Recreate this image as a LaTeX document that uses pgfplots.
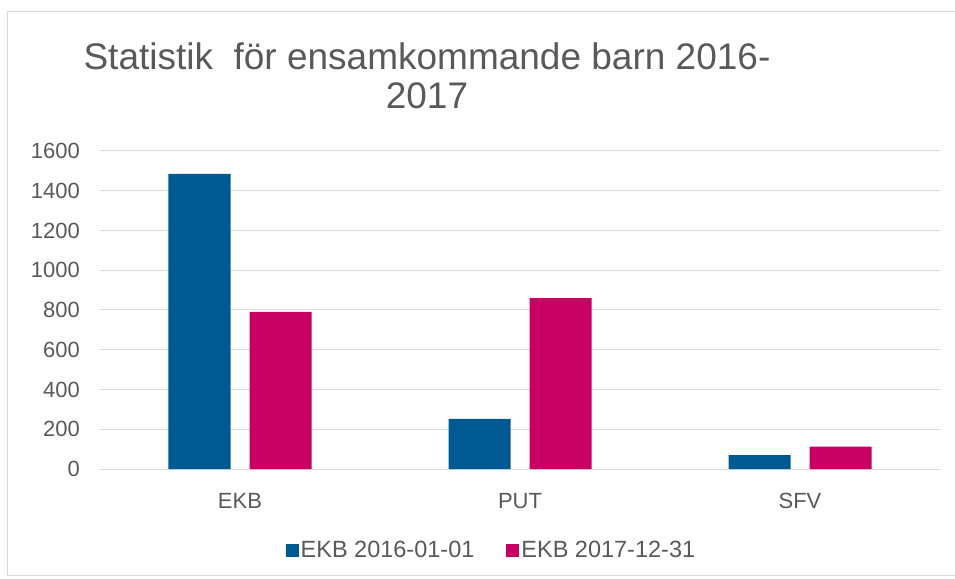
\documentclass[border=0pt]{standalone}
\usepackage{fontspec}
\setmainfont{Liberation Sans}
\usepackage{pgfplots}
\pgfplotsset{compat=1.18}

\definecolor{ekbblue}{RGB}{0,90,145}
\definecolor{ekbpink}{RGB}{200,0,100}
\definecolor{txtgray}{RGB}{89,89,89}
\definecolor{gridgray}{RGB}{217,217,217}

\begin{document}
\begin{tikzpicture}
% frame of the whole picture, axis box starts at (0,0)
\path[use as bounding box] (-100pt,-109pt) rectangle (855pt,469pt);
\draw[gridgray, line width=1pt] (856pt,457pt) -- (-92pt,457pt) -- (-92pt,-106pt) -- (856pt,-106pt);

\begin{axis}[
    scale only axis,
    width=840pt, height=318pt,
    ybar=19pt,
    bar width=62pt,
    xmin=-0.5, xmax=2.5,
    ymin=0, ymax=1600,
    xtick=data,
    xticklabels={EKB,PUT,SFV},
    ytick={0,200,...,1600},
    ymajorgrids,
    grid style={gridgray, line width=1pt},
    axis line style={draw=none},
    major tick style={draw=none},
    /pgf/number format/assume math mode=true,
    /pgf/number format/1000 sep={},
    tick label style={font=\fontsize{22}{24}\selectfont, text=txtgray},
    yticklabel style={inner sep=0pt, anchor=east, xshift=-20pt},
    xticklabel style={inner sep=0pt, anchor=north, yshift=-20pt},
    legend columns=2,
    legend style={draw=none, fill=none, at={(0.466,-0.255)}, anchor=center,
        font=\fontsize{23.5}{25}\selectfont, text=txtgray,
        /tikz/every even column/.append style={column sep=30pt}},
    legend cell align=left,
    legend image code/.code={\fill[#1] (0pt,-6.5pt) rectangle (13pt,6.5pt);},
    clip=false,
]
\addplot[fill=ekbblue, draw=none] coordinates {(0,1485) (1,252) (2,70)};
\addplot[fill=ekbpink, draw=none] coordinates {(0,790) (1,860) (2,112)};
\legend{EKB 2016-01-01, EKB 2017-12-31}
\end{axis}

\node[align=center, text=txtgray, font=\fontsize{37}{39}\selectfont]
    at (327pt,393pt) {Statistik\ \ för ensamkommande barn 2016-\\2017};
\end{tikzpicture}
\end{document}
